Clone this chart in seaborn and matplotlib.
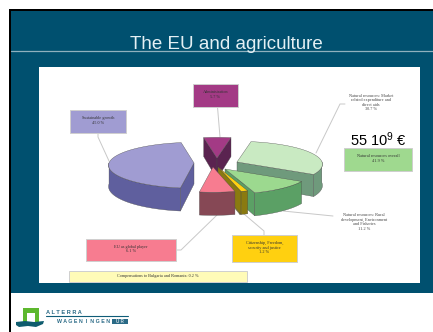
import numpy as np
import matplotlib
matplotlib.use("Agg")
import matplotlib.pyplot as plt
from matplotlib.patches import Rectangle, Polygon
import seaborn as sns

# EU budget shares, clockwise from the back of the pie
slice_names = ["Administration", "Market", "Rural", "Citizenship", "Compensation", "Global", "Growth"]
slice_values = [5.7, 30.7, 11.2, 1.2, 0.2, 6.1, 45.0]
top_colors = ["#A33A85", "#C9EAC2", "#9CD98F", "#FFD010", "#FFFBB8", "#F77C90", "#A09CD2"]
side_colors = ["#5A2350", "#6F9A7C", "#5BA065", "#8A7A10", "#A89A40", "#864855", "#5F5F9E"]
draw_order = ["Administration", "Market", "Growth", "Rural", "Compensation", "Citizenship", "Global"]

# How far each slice is pulled out of the pie, as (right, down) offsets
pull_right = [0, 20, 8, 1, 1, -4, -23]
pull_down = [-7, -3, 4, 2, 2, 2, -2]

# Text labels
title_text = "The EU and agriculture"
total_text = "55 10$^{9}$ €"
growth_label = "Sustainable growth\n45.0 %"
admin_label = "Administration\n5.7 %"
market_label = "Natural resources: Market\nrelated expenditure and\ndirect aids\n30.7 %"
overall_label = "Natural resources overall\n41.9 %"
rural_label = "Natural resources: Rural\ndevelopment, Environment\nand Fisheries\n11.2 %"
citizen_label = "Citizenship, Freedom,\nsecurity and justice\n1.2 %"
global_label = "EU as global player\n6.1 %"
compensation_label = "Compensations to Bulgaria and Romania: 0.2 %"

TEAL = "#00506F"
sns.set_theme(style="white")
plt.rcParams["font.family"] = ["Liberation Sans", "DejaVu Sans"]
plt.rcParams["mathtext.default"] = "regular"

fig = plt.figure(figsize=(4.33, 3.32), dpi=100, facecolor="white")
ax = fig.add_axes([0, 0, 1, 1])
ax.set_xlim(0, 433)
ax.set_ylim(332, 0)
sns.despine(ax=ax, left=True, bottom=True)
ax.set_xticks([])
ax.set_yticks([])
ax.patch.set_alpha(0)


def rect(x0, y0, x1, y1, fc, ec="none", lw=0, z=1):
    ax.add_patch(Rectangle((x0, y0), x1 - x0, y1 - y0, fc=fc, ec=ec, lw=lw, zorder=z))


# Slide frame, header rule and white panel
rect(9, 9, 433, 332, "black")
rect(11, 11, 433, 332, "white")
rect(11, 11, 433, 293, TEAL)
ax.plot([11, 433], [50.5, 50.5], color="#8FB0BE", lw=0.9, zorder=2)
rect(39, 67, 420, 283, "white", z=2)
ax.text(226, 42.5, title_text, color="#E4F0F4", fontsize=13.5, ha="center", va="center_baseline", zorder=3)

# Perspective pie geometry
CX, CY, RADIUS, SQUASH, DEPTH, PERSP = 217, 165, 85, 0.27, 21, 0.1


def draw_slice(hi, lo, dx, dy, top, side):
    def project(x, y, z=0.0):
        s = 1 - PERSP * y / RADIUS
        return CX + dx + x * s, CY + dy - SQUASH * y * s + z * s

    angles = np.radians(np.linspace(hi, lo, max(int(hi - lo), 2) + 1))
    rim = [(RADIUS * np.cos(a), RADIUS * np.sin(a)) for a in angles]
    apex = (0.0, 0.0)
    style = dict(ec="#4A4A4A", lw=0.25, joinstyle="round", zorder=4)

    def wall(points):
        up = [project(*p) for p in points]
        down = [project(*p, DEPTH) for p in reversed(points)]
        ax.add_patch(Polygon(up + down, closed=True, fc=side, **style))

    # Cut faces turned towards the viewer
    if np.sin(np.radians(hi + 90)) < 0:
        wall([apex, rim[0]])
    if np.sin(np.radians(lo - 90)) < 0:
        wall([apex, rim[-1]])
    # Outer rim, front half only
    front = [p for p, a in zip(rim, angles) if np.sin(a) < 0.02]
    if len(front) > 1:
        wall(front)
    ax.add_patch(Polygon([project(*apex)] + [project(*p) for p in rim], closed=True, fc=top, **style))


edges = 100 - np.cumsum([0] + slice_values) * 3.6
spans = {n: (edges[i], edges[i + 1], i) for i, n in enumerate(slice_names)}
for name in draw_order:
    hi, lo, i = spans[name]
    draw_slice(hi, lo, pull_right[i], pull_down[i], top_colors[i], side_colors[i])

# Leader lines
leaders = [
    [(98, 133), (98, 137), (109, 161)],
    [(217.5, 107), (220, 137)],
    [(316, 153), (340, 104), (345, 104)],
    [(283, 211), (333, 216)],
    [(244, 214), (264, 231), (264, 235)],
    [(217, 215), (181, 250), (176, 250)],
]
for pts in leaders:
    xs, ys = zip(*pts)
    ax.plot(xs, ys, color="#C8C8C8", lw=0.7, zorder=3)

# Label boxes
boxes = [
    (70, 110, 126, 133, "#A09CD2", growth_label),
    (193, 84, 238, 107, "#A33A85", admin_label),
    (344, 148, 412, 171, "#9FD98F", overall_label),
    (232, 235, 297, 262, "#FFD010", citizen_label),
    (86, 239, 176, 261, "#F77C90", global_label),
    (69, 271, 247, 282, "#FFFBB8", compensation_label),
]
serif = ["Liberation Serif", "DejaVu Serif"]
for x0, y0, x1, y1, color, label in boxes:
    rect(x0, y0, x1, y1, color, ec="#CFCFCF", lw=0.7, z=5)
    ax.text((x0 + x1) / 2, (y0 + y1) / 2 - 1, label, family=serif, fontsize=3.1, color="#333333",
            ha="center", va="center", linespacing=1.15, zorder=6)

ax.text(371, 102.5, market_label, family=serif, fontsize=3.1, color="#444444", ha="center", va="center",
        linespacing=1.15, zorder=6)
ax.text(364, 222, rural_label, family=serif, fontsize=3.1, color="#444444", ha="center", va="center",
        linespacing=1.15, zorder=6)
ax.text(378, 140, total_text, color="black", fontsize=10.5, ha="center", va="center", zorder=6)

# Institute logo in the footer
rect(23, 308, 39, 323, "#5DB82E", z=3)
rect(27, 313, 35, 323, "white", z=3)
ax.add_patch(Polygon([(16, 322), (25, 321), (34, 322), (44, 321), (43, 324), (36, 327), (28, 326), (19, 327), (16, 325)],
                     closed=True, fc="#0F5C6E", ec="none", zorder=4))
ax.text(46, 312.5, "A L T E R R A", color="#2A6A86", fontsize=4.1, weight="bold", ha="left", va="center", zorder=4)
ax.plot([46, 128], [316.3, 316.3], color="#0F5C78", lw=0.8, zorder=4)
ax.text(57, 321.5, "W A G E N  I  N G E N", color="#2A6A86", fontsize=3.8, weight="bold", ha="left", va="center", zorder=4)
rect(112, 319, 128, 324, "#2A6A86", z=4)
ax.text(120, 321.5, "U R", color="#C8D8E0", fontsize=3.3, weight="bold", ha="center", va="center", zorder=5)

fig.savefig("out.png", dpi=100, facecolor="white")
